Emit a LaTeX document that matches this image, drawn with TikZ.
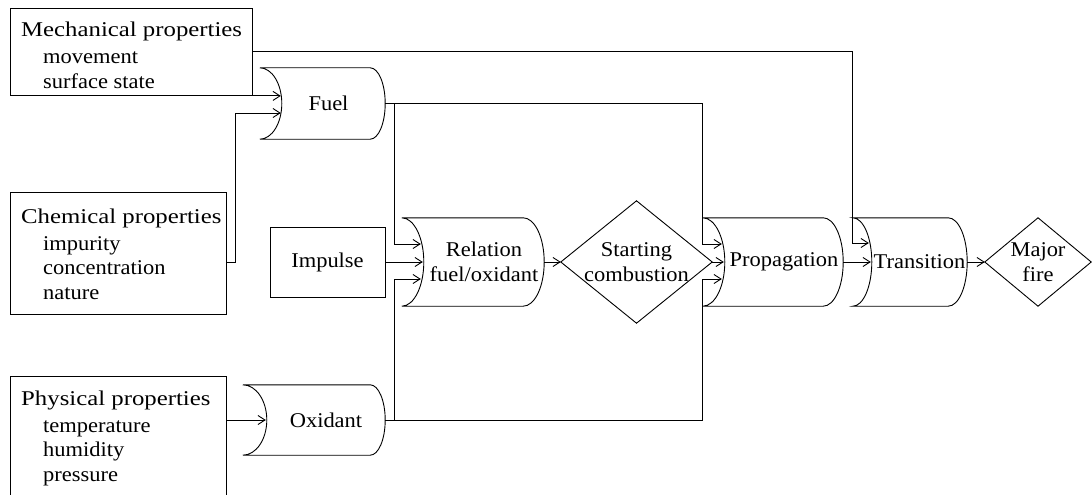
\documentclass[tikz,border=0pt]{standalone}
\usepackage{fontspec}
\setmainfont{Liberation Serif}[FakeStretch=1.07]
\newfontfamily\titlefont{Liberation Serif}[FakeStretch=1.18]
\usetikzlibrary{arrows.meta,calc}

% outline of a drum: concave left arc (bulge #2), convex right end (radius #3)
\newcommand\drumshape[3]{%
  \draw[ln] let \p1=(#1.north west), \p2=(#1.south east), \n1={(\y1-\y2)/2} in
    (\x1-#2,\y1) arc[start angle=90,end angle=-90,x radius=#2,y radius=\n1]
    -- (\x2-#3,\y2) arc[start angle=-90,end angle=90,x radius=#3,y radius=\n1] -- cycle;}
% outline of a decision diamond spanning the node's box
\newcommand\diashape[1]{%
  \draw[ln] (#1.north) -- (#1.east) -- (#1.south) -- (#1.west) -- cycle;}

\tikzset{
  every node/.style={font=\fontsize{21}{24.5}\selectfont, inner sep=0pt},
  ln/.style={line width=0.9pt},
  arr/.style={ln, -{Straight Barb[length=7pt,width=9pt]}},
  box/.style={draw, ln, rectangle, anchor=north west},
  body/.style={rectangle, align=center},
  lines/.style={anchor=base west},
}

\begin{document}
\begin{tikzpicture}[x=1pt,y=1pt]
  \clip (0,0) rectangle (1092,-495);

  % property boxes
  \node[box, minimum width=242pt, minimum height=87pt] (mech) at (10,-8) {};
  \node[lines] (mecht) at (21,-37) {\begin{tabular}[t]{@{}l@{}}{\titlefont Mechanical properties}\\[2.5pt]
    \hspace*{22pt}movement\\ \hspace*{22pt}surface state\end{tabular}};

  \node[box, minimum width=216pt, minimum height=122pt] (chem) at (10,-192) {};
  \node[lines] (chemt) at (21,-223) {\begin{tabular}[t]{@{}l@{}}{\titlefont Chemical properties}\\[2.5pt]
    \hspace*{22pt}impurity\\ \hspace*{22pt}concentration\\ \hspace*{22pt}nature\end{tabular}};

  \node[box, minimum width=216pt, minimum height=140pt] (phys) at (10,-376) {};
  \node[lines] (physt) at (21,-405) {\begin{tabular}[t]{@{}l@{}}{\titlefont Physical properties}\\[2.5pt]
    \hspace*{22pt}temperature\\ \hspace*{22pt}humidity\\ \hspace*{22pt}pressure\end{tabular}};

  \node[draw, ln, minimum width=115pt, minimum height=70pt] (imp) at (327.5,-262) {Impulse};

  % drums (node box = text region right of the concave arc)
  \node[body, minimum width=103pt, minimum height=71pt] (fuel) at (333.5,-103.5) {Fuel\hspace*{10pt}};
  \node[body, minimum width=118pt, minimum height=70pt] (oxi) at (326,-420) {Oxidant};
  \node[body, minimum width=120pt, minimum height=88pt] (rel) at (484,-262) {Relation\\fuel/oxidant};
  \node[body, minimum width=118pt, minimum height=88pt] (prop) at (784,-262) {Propagation};
  \node[body, minimum width=95pt, minimum height=88pt] (trans) at (919.5,-262) {Transition};
  \drumshape{fuel}{22pt}{15pt}
  \drumshape{oxi}{24pt}{15pt}
  \drumshape{rel}{22pt}{21pt}
  \drumshape{prop}{22pt}{20pt}
  \drumshape{trans}{19pt}{19pt}

  % decisions
  \node[body, minimum width=151pt, minimum height=122pt] (start) at (636.5,-262) {Starting\\combustion};
  \node[body, minimum width=106pt, minimum height=88pt] (fire) at (1038,-262) {Major\\fire};
  \diashape{start}
  \diashape{fire}

  % junctions
  \coordinate (jf) at (394,-103.5);
  \coordinate (jo) at (394,-420);

  % connectors
  \draw[arr] (mech.south east) -- ([xshift=-1pt]mech.south east -| fuel.west);
  \draw[arr] ([yshift=-9pt]chem.east) -- ++(9,0) |- ([xshift=-1pt,yshift=-9.5pt]fuel.west);

  \draw[ln] (fuel.east) -- (jf);
  \draw[arr] (jf) |- ([xshift=-3pt,yshift=18pt]rel.west);
  \draw[arr] (jf) -| ([xshift=-22pt,yshift=18pt]prop.west) -- ([xshift=-3pt,yshift=18pt]prop.west);

  \draw[arr] (phys.east |- oxi.west) -- ([xshift=-1pt]oxi.west);
  \draw[ln] (oxi.east) -- (jo);
  \draw[arr] (jo) |- ([xshift=-3pt,yshift=-17pt]rel.west);
  \draw[arr] (jo) -| ([xshift=-22pt,yshift=-17pt]prop.west) -- ([xshift=-3pt,yshift=-17pt]prop.west);

  \draw[arr] (imp.east) -- ([xshift=-1pt]rel.west);
  \draw[arr] (rel.east) -- (start.west);
  \draw[arr] (start.east) -- ([xshift=-1pt]prop.west);

  \draw[arr] (mech.east) -| ([xshift=-19pt,yshift=19pt]trans.west) -- ([xshift=-3pt,yshift=19pt]trans.west);
  \draw[arr] (prop.east) -- ([xshift=-1pt]trans.west);
  \draw[arr] (trans.east) -- (fire.west);
\end{tikzpicture}
\end{document}
